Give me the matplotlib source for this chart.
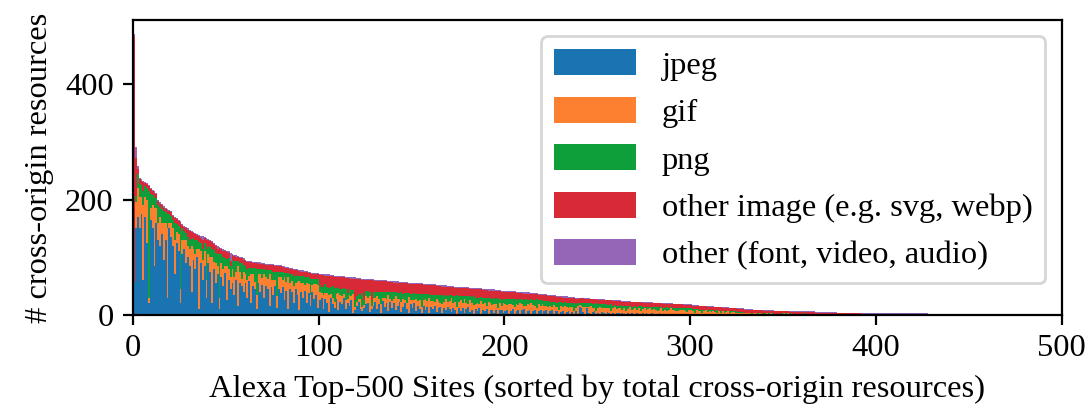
import numpy as np
import matplotlib.pyplot as plt

plt.rcParams['font.family'] = 'Liberation Serif'
plt.rcParams['font.size'] = 11.7

# per-site resource counts, one line = 10 sites
jpeg = [
    55, 150, 170, 150, 175, 60, 170, 125, 20, 165,
    150, 85, 160, 130, 120, 140, 95, 130, 30, 150,
    135, 120, 70, 125, 110, 20, 105, 115, 90, 100,
    85, 40, 95, 80, 100, 10, 90, 60, 85, 30,
    90, 75, 20, 80, 55, 70, 10, 65, 50, 72,
    25, 60, 45, 55, 35, 60, 15, 55, 50, 40,
    55, 30, 58, 20, 50, 45, 10, 55, 40, 52,
    30, 50, 45, 15, 48, 35, 50, 12, 45, 38,
    48, 25, 42, 10, 45, 40, 20, 44, 35, 8,
    40, 30, 42, 20, 38, 15, 40, 28, 35, 12,
    25, 30, 10, 28, 20, 5, 30, 18, 12, 28,
    8, 22, 18, 30, 10, 20, 15, 25, 4, 8,
    15, 22, 10, 6, 12, 18, 20, 5, 10, 15,
    22, 10, 18, 4, 24, 14, 20, 6, 22, 12,
    20, 8, 16, 22, 5, 14, 20, 10, 3, 18,
    12, 20, 6, 16, 10, 3, 16, 8, 14, 4,
    14, 10, 16, 5, 12, 14, 3, 12, 8, 14,
    10, 5, 12, 8, 2, 12, 6, 11, 3, 10,
    13, 5, 9, 1, 10, 6, 11, 2, 9, 6,
    10, 2, 8, 9, 4, 8, 1, 8, 9, 3,
    7, 9, 2, 7, 10, 1, 7, 9, 2, 8,
    10, 1, 6, 9, 2, 7, 9, 1, 7, 8,
    2, 6, 9, 1, 7, 8, 2, 6, 7, 1,
    5, 7, 1, 5, 7, 2, 5, 1, 6, 2,
    14, 12, 5, 1, 11, 4, 1, 5, 6, 1,
    4, 1, 5, 3, 1, 5, 3, 1, 4, 1,
    4, 3, 1, 4, 2, 1, 3, 1, 3, 2,
    1, 3, 2, 1, 3, 1, 3, 2, 1, 3,
    1, 2, 1, 3, 1, 2, 1, 1, 2, 1,
    2, 1, 2, 1, 1, 2, 1, 2, 1, 1,
    1, 1, 0, 1, 1, 1, 0, 1, 0, 1,
    0, 1, 0, 0, 1, 0, 0, 1, 0, 0,
    0, 0, 0, 1, 0, 0, 0, 0, 0, 0,
    0, 0, 0, 0, 0, 0, 0, 0, 0, 0,
    0, 0, 0, 0, 0, 0, 0, 0, 0, 0,
    0, 0, 0, 0, 0, 0, 0, 0, 0, 0,
    0, 0, 0, 0, 0, 0, 0, 0, 0, 0,
    0, 0, 0, 0, 0, 0, 0, 0, 0, 0,
    0, 0, 0, 0, 0, 0, 0, 0, 0, 0,
    0, 0, 0, 0, 0, 0, 0, 0, 0, 0,
    0, 0, 0, 0, 0, 0, 0, 0, 0, 0,
    0, 0, 0, 0, 0, 0, 0, 0, 0, 0,
    0, 0, 0, 0, 0, 0, 0, 0, 0, 0,
    0, 0, 0, 0, 0, 0, 0, 0, 0, 0, 0, 0, 0,
]

gif = [
    0, 45, 50, 55, 30, 130, 35, 75, 10, 20,
    40, 100, 25, 30, 50, 20, 65, 30, 120, 10,
    25, 30, 60, 18, 30, 25, 25, 15, 40, 20,
    30, 80, 20, 25, 15, 105, 20, 35, 25, 30,
    15, 25, 80, 12, 35, 15, 20, 25, 30, 12,
    60, 20, 20, 25, 30, 15, 70, 20, 12, 35,
    15, 30, 10, 50, 20, 12, 25, 15, 30, 12,
    40, 15, 18, 55, 12, 25, 10, 20, 20, 28,
    12, 40, 15, 55, 10, 18, 30, 12, 22, 50,
    15, 25, 10, 35, 15, 20, 12, 25, 18, 40,
    15, 8, 25, 10, 18, 30, 6, 12, 10, 8,
    30, 12, 15, 6, 15, 8, 20, 8, 32, 6,
    8, 6, 18, 8, 5, 15, 10, 28, 6, 15,
    8, 22, 10, 14, 6, 16, 8, 28, 6, 12,
    8, 24, 12, 6, 18, 14, 6, 10, 28, 8,
    14, 6, 22, 8, 16, 10, 10, 20, 10, 26,
    10, 14, 6, 22, 12, 6, 16, 10, 20, 8,
    14, 24, 8, 15, 12, 10, 20, 10, 24, 11,
    6, 20, 12, 16, 9, 15, 8, 22, 10, 14,
    6, 20, 12, 8, 15, 10, 10, 13, 7, 18,
    11, 8, 17, 11, 7, 13, 12, 8, 19, 10,
    6, 15, 12, 8, 19, 10, 6, 10, 11, 8,
    17, 10, 6, 13, 9, 6, 15, 8, 6, 8,
    10, 6, 15, 8, 5, 11, 8, 6, 6, 13,
    3, 4, 9, 12, 3, 9, 14, 7, 6, 6,
    8, 13, 6, 9, 11, 6, 9, 5, 7, 12,
    6, 9, 10, 5, 9, 6, 7, 12, 6, 8,
    11, 5, 9, 6, 7, 11, 5, 8, 10, 5,
    9, 6, 5, 6, 10, 5, 8, 6, 6, 10,
    6, 8, 5, 5, 7, 6, 8, 5, 4, 7,
    7, 5, 4, 7, 5, 6, 4, 6, 8, 4,
    6, 4, 6, 5, 3, 6, 4, 5, 3, 5,
    6, 3, 5, 4, 3, 4, 4, 3, 3, 3,
    3, 3, 4, 2, 3, 3, 2, 3, 2, 2,
    2, 3, 2, 3, 2, 2, 1, 2, 1, 2,
    3, 2, 3, 2, 2, 2, 1, 2, 2, 1,
    2, 2, 1, 2, 2, 1, 2, 1, 2, 1,
    1, 1, 2, 1, 1, 1, 0, 1, 1, 1,
    1, 0, 1, 0, 1, 0, 1, 0, 1, 0,
    1, 0, 0, 1, 0, 0, 0, 1, 0, 0,
    0, 1, 0, 0, 0, 1, 0, 0, 0, 0,
    0, 0, 1, 0, 0, 0, 0, 0, 0, 0,
    0, 0, 0, 0, 0, 0, 0, 0, 0, 0,
    0, 0, 0, 0, 0, 0, 0, 0, 0, 0, 0, 0, 0,
]

png = [
    2, 12, 25, 22, 20, 25, 18, 20, 185, 25,
    18, 20, 18, 30, 17, 24, 20, 18, 25, 15,
    12, 15, 30, 15, 15, 100, 20, 16, 12, 15,
    15, 12, 18, 25, 15, 12, 14, 20, 15, 55,
    15, 18, 15, 20, 18, 20, 75, 15, 20, 15,
    12, 18, 20, 15, 28, 18, 8, 15, 28, 12,
    15, 20, 14, 12, 12, 25, 45, 10, 10, 15,
    10, 12, 15, 8, 18, 15, 15, 42, 10, 9,
    14, 8, 15, 8, 16, 12, 18, 12, 12, 10,
    12, 12, 14, 10, 12, 28, 11, 10, 10, 10,
    12, 10, 14, 15, 10, 12, 13, 20, 25, 12,
    8, 10, 12, 10, 20, 10, 9, 10, 7, 12,
    10, 8, 6, 24, 8, 8, 11, 7, 10, 10,
    10, 8, 12, 22, 10, 9, 12, 6, 11, 15,
    11, 7, 10, 10, 16, 9, 12, 18, 7, 11,
    11, 12, 9, 13, 10, 24, 10, 8, 12, 6,
    11, 10, 13, 8, 10, 15, 16, 11, 6, 11,
    10, 5, 13, 9, 20, 10, 7, 11, 5, 11,
    13, 7, 10, 16, 11, 9, 11, 7, 10, 9,
    13, 8, 9, 11, 10, 9, 18, 7, 10, 7,
    10, 11, 9, 9, 10, 14, 8, 9, 7, 9,
    10, 11, 8, 9, 6, 8, 10, 16, 7, 9,
    7, 8, 9, 10, 7, 8, 6, 8, 8, 14,
    7, 8, 6, 8, 8, 8, 7, 14, 7, 5,
    4, 5, 7, 7, 6, 7, 5, 7, 7, 13,
    6, 5, 7, 6, 6, 6, 5, 12, 5, 4,
    6, 4, 6, 6, 4, 9, 5, 3, 5, 4,
    3, 6, 4, 8, 3, 2, 5, 4, 3, 6,
    3, 5, 7, 4, 3, 5, 3, 6, 4, 2,
    4, 3, 4, 6, 3, 3, 2, 4, 6, 3,
    3, 4, 6, 2, 4, 2, 5, 2, 1, 3,
    2, 3, 2, 2, 4, 1, 3, 1, 4, 2,
    1, 3, 1, 1, 3, 1, 1, 2, 2, 1,
    1, 1, 0, 2, 0, 1, 1, 0, 1, 0,
    1, 0, 1, 0, 1, 0, 1, 0, 0, 1,
    0, 1, 0, 0, 1, 0, 1, 0, 0, 0,
    0, 1, 0, 0, 0, 1, 0, 0, 0, 0,
    1, 0, 0, 0, 0, 0, 1, 0, 0, 0,
    0, 0, 0, 1, 0, 0, 0, 0, 0, 0,
    0, 0, 0, 0, 0, 0, 0, 0, 0, 0,
    0, 0, 0, 0, 0, 0, 0, 0, 0, 0,
    0, 0, 0, 0, 0, 0, 0, 0, 0, 0,
    0, 0, 0, 0, 0, 0, 0, 0, 0, 0,
    0, 0, 0, 0, 0, 0, 0, 0, 0, 0, 0, 0, 0,
]

img_other = [
    425, 65, 8, 8, 7, 15, 6, 7, 8, 8,
    7, 7, 7, 8, 6, 6, 6, 5, 6, 5,
    6, 7, 8, 8, 8, 15, 6, 7, 8, 12,
    15, 12, 9, 10, 8, 9, 10, 15, 8, 15,
    10, 10, 11, 11, 12, 10, 11, 9, 10, 11,
    12, 10, 8, 9, 9, 8, 7, 9, 8, 9,
    9, 12, 9, 9, 8, 8, 10, 9, 9, 9,
    8, 10, 9, 8, 8, 11, 10, 11, 9, 9,
    9, 9, 9, 8, 9, 9, 10, 10, 8, 8,
    8, 8, 8, 9, 8, 9, 8, 8, 7, 8,
    17, 21, 20, 15, 20, 21, 18, 17, 19, 18,
    20, 21, 20, 19, 19, 26, 20, 20, 20, 37,
    29, 26, 28, 23, 36, 20, 20, 20, 34, 20,
    19, 19, 19, 18, 18, 19, 18, 17, 18, 18,
    17, 17, 18, 17, 16, 18, 17, 17, 16, 17,
    17, 16, 16, 16, 17, 16, 16, 16, 16, 15,
    16, 17, 16, 15, 16, 15, 14, 16, 15, 15,
    14, 14, 15, 15, 13, 15, 14, 14, 14, 14,
    14, 13, 14, 12, 14, 14, 14, 13, 14, 14,
    14, 12, 13, 14, 13, 14, 12, 13, 14, 12,
    12, 12, 11, 12, 12, 11, 11, 12, 10, 11,
    11, 10, 11, 11, 9, 11, 11, 9, 10, 10,
    9, 10, 10, 9, 10, 10, 9, 10, 10, 8,
    9, 9, 8, 9, 9, 8, 9, 8, 9, 8,
    8, 8, 8, 8, 8, 8, 7, 8, 8, 7,
    8, 7, 8, 8, 7, 8, 8, 7, 8, 7,
    8, 8, 7, 8, 8, 7, 8, 7, 8, 8,
    7, 8, 7, 7, 8, 7, 8, 7, 7, 7,
    7, 7, 7, 7, 6, 7, 7, 6, 7, 6,
    7, 6, 7, 6, 7, 7, 6, 6, 6, 6,
    6, 6, 6, 6, 6, 6, 6, 6, 6, 6,
    6, 6, 6, 6, 5, 6, 6, 5, 5, 5,
    5, 5, 5, 5, 5, 5, 5, 5, 5, 5,
    5, 5, 5, 5, 5, 4, 5, 5, 5, 5,
    4, 4, 4, 4, 4, 4, 4, 4, 5, 3,
    3, 3, 3, 3, 2, 3, 3, 3, 3, 4,
    3, 2, 4, 3, 3, 3, 3, 3, 2, 3,
    2, 3, 2, 3, 3, 3, 3, 3, 2, 2,
    2, 3, 2, 2, 2, 3, 2, 3, 2, 3,
    2, 3, 2, 1, 2, 2, 2, 1, 2, 2,
    2, 1, 2, 2, 2, 1, 2, 2, 2, 2,
    2, 2, 1, 2, 2, 2, 2, 2, 2, 2,
    2, 2, 2, 2, 2, 2, 2, 2, 1, 1,
    1, 1, 1, 1, 1, 1, 1, 1, 1, 1, 1, 1, 1,
]

other = [
    5, 20, 5, 3, 3, 3, 2, 2, 3, 2,
    2, 2, 2, 2, 2, 2, 2, 2, 2, 2,
    2, 2, 2, 2, 2, 3, 2, 2, 2, 3,
    3, 2, 2, 2, 2, 2, 2, 6, 2, 4,
    2, 2, 2, 2, 2, 5, 2, 2, 4, 2,
    2, 2, 15, 2, 2, 2, 2, 2, 2, 2,
    2, 2, 2, 2, 2, 2, 2, 2, 2, 2,
    2, 2, 2, 2, 2, 2, 2, 2, 2, 2,
    2, 2, 2, 2, 2, 2, 2, 2, 2, 2,
    2, 2, 2, 2, 2, 2, 2, 2, 2, 2,
    2, 2, 2, 2, 2, 2, 2, 2, 2, 2,
    2, 2, 2, 2, 2, 2, 2, 2, 2, 2,
    2, 2, 2, 2, 2, 2, 2, 2, 2, 2,
    2, 2, 2, 2, 2, 2, 2, 2, 2, 2,
    2, 2, 2, 2, 2, 2, 2, 2, 2, 2,
    2, 2, 2, 2, 2, 2, 2, 2, 2, 2,
    2, 2, 2, 2, 2, 2, 2, 2, 2, 2,
    2, 2, 2, 2, 2, 2, 2, 2, 2, 2,
    2, 2, 2, 2, 2, 2, 2, 2, 2, 2,
    2, 2, 2, 2, 2, 2, 2, 2, 2, 2,
    2, 2, 2, 2, 2, 2, 2, 2, 2, 2,
    2, 2, 2, 2, 2, 2, 2, 2, 2, 2,
    2, 2, 2, 2, 2, 2, 2, 2, 2, 2,
    2, 2, 2, 2, 2, 2, 2, 2, 2, 2,
    1, 1, 1, 1, 1, 1, 1, 1, 1, 1,
    1, 1, 1, 1, 1, 1, 1, 1, 1, 1,
    1, 1, 1, 1, 1, 1, 1, 1, 1, 1,
    1, 1, 1, 1, 1, 1, 1, 1, 1, 1,
    1, 1, 1, 1, 1, 1, 1, 1, 1, 1,
    1, 1, 1, 1, 1, 1, 1, 1, 1, 1,
    1, 1, 1, 1, 1, 1, 1, 1, 1, 1,
    1, 1, 1, 1, 1, 1, 1, 1, 1, 1,
    1, 1, 1, 1, 1, 1, 1, 1, 1, 1,
    1, 1, 1, 1, 1, 1, 1, 1, 1, 1,
    1, 1, 1, 1, 1, 1, 1, 1, 1, 1,
    1, 1, 1, 1, 1, 1, 1, 1, 1, 1,
    1, 1, 1, 1, 1, 1, 1, 1, 1, 1,
    1, 1, 1, 1, 1, 1, 1, 1, 2, 1,
    1, 1, 1, 1, 1, 1, 1, 1, 1, 1,
    1, 1, 1, 1, 1, 1, 1, 1, 1, 1,
    1, 1, 1, 1, 1, 1, 1, 1, 1, 1,
    1, 1, 1, 1, 1, 1, 1, 1, 1, 1,
    1, 1, 1, 1, 1, 1, 1, 1, 1, 1,
    1, 1, 1, 1, 1, 1, 1, 1, 1, 1, 1, 1, 1,
]

labels = ['jpeg', 'gif', 'png', 'other image (e.g. svg, webp)',
          'other (font, video, audio)']
colors = ['#1a74b1', '#fd8030', '#0e9f3b', '#d72a36', '#9565b7']

series = np.array([jpeg, gif, png, img_other, other])
total = series.sum(axis=0)
order = np.argsort(-total, kind='stable')   # sorted by total
series = series[:, order]
x = np.arange(series.shape[1])

fig, ax = plt.subplots(figsize=(5.455, 2.055), dpi=200)
bottom = np.zeros(len(x))
for vals, lab, col in zip(series, labels, colors):
    ax.bar(x, vals, width=1.0, bottom=bottom, align='edge', color=col,
           label=lab, linewidth=0, antialiased=False)
    bottom += vals

ax.set_xlim(0, 500)
ax.set_xticks([0, 100, 200, 300, 400, 500])
ax.set_yticks([0, 200, 400])
ax.set_xlabel('Alexa Top-500 Sites (sorted by total cross-origin resources)')
ax.set_ylabel('# cross-origin resources')
ax.legend(loc='upper right', handlelength=2.5, handleheight=0.85)

fig.subplots_adjust(left=0.122, right=0.973, top=0.951, bottom=0.234)
fig.savefig('out.png', dpi=200)
